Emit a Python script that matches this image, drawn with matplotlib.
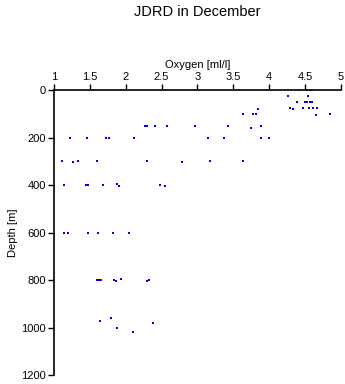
import numpy as np
import matplotlib.pyplot as plt
import matplotlib as mpl

mpl.rcParams["font.family"] = ["Liberation Sans", "DejaVu Sans"]
mpl.rcParams["xtick.labelsize"] = 8
mpl.rcParams["ytick.labelsize"] = 8
mpl.rcParams["axes.labelsize"] = 8

# oxygen [ml/l] and depth [m]
oxygen = [
    4.26, 4.41, 4.52, 4.57, 4.60, 4.54,
    4.38, 4.50, 4.53, 4.57, 4.60,
    4.29, 4.33, 4.47, 4.56, 4.61, 4.66, 4.65, 4.85,
    3.64, 3.77, 3.81, 3.85, 3.74, 3.89,
    3.43, 2.96, 2.58, 2.41, 2.27, 2.30,
    1.22, 1.46, 1.72, 1.76, 2.12, 3.15, 3.37, 3.89, 4.00,
    1.11, 1.27, 1.34, 1.60, 2.30, 2.79, 3.18, 3.64,
    1.14, 1.44, 1.46, 1.47, 1.68, 1.88, 1.90, 2.48, 2.55,
    1.14, 1.20, 1.48, 1.62, 1.82, 2.05,
    1.60, 1.63, 1.66, 1.84, 1.87, 1.94, 2.29, 2.33,
    1.64, 1.79, 1.88, 2.10, 2.38,
]
depth = [
    25, 0, 0, 0, 0, 25,
    51, 51, 51, 51, 51,
    76, 80, 76, 76, 76, 76, 106, 101,
    101, 101, 101, 80, 159, 150,
    150, 150, 150, 150, 150, 150,
    200, 200, 200, 200, 200, 200, 200, 200, 204,
    300, 302, 300, 300, 300, 303, 300, 300,
    400, 401, 400, 401, 400, 396, 404, 400, 405,
    600, 600, 600, 600, 600, 604,
    800, 800, 800, 800, 805, 796, 804, 800,
    972, 960, 1003, 1019, 981,
]

fig = plt.figure(figsize=(3.45, 3.84), dpi=100)
ax = fig.add_axes([0.1565, 0.0234, 0.8319, 0.7422])

ax.scatter(oxygen, depth, marker="s", s=4.5, color="#0000ff", linewidths=0)

ax.set_xlim(1, 5)
ax.set_ylim(1200, 0)
ax.set_xticks([1, 1.5, 2, 2.5, 3, 3.5, 4, 4.5, 5])
ax.set_xticklabels(["1", "1.5", "2", "2.5", "3", "3.5", "4", "4.5", "5"])
ax.set_yticks([0, 200, 400, 600, 800, 1000, 1200])

ax.xaxis.tick_top()
ax.xaxis.set_label_position("top")
ax.spines["right"].set_visible(False)
ax.spines["bottom"].set_visible(False)
ax.tick_params(axis="both", length=4, width=1, pad=2, colors="black")
for s in ["left", "top"]:
    ax.spines[s].set_linewidth(1.2)

ax.set_xlabel("Oxygen [ml/l]", labelpad=3)
ax.set_ylabel("Depth [m]", labelpad=2)

fig.text(0.571, 1 - 12 / 384, "JDRD in December", ha="center", va="center", fontsize=10.5)

plt.savefig("out.png", dpi=100)
